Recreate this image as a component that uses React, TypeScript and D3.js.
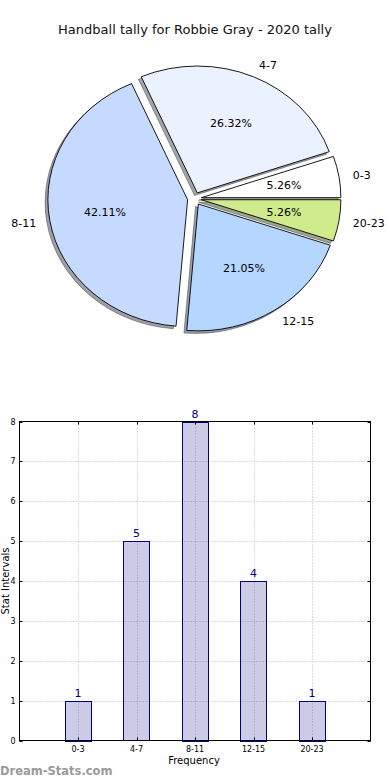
import { useEffect, useRef } from "react"
import * as d3 from "d3"

const categories = ["0-3", "4-7", "8-11", "12-15", "20-23"]
const counts = [1, 5, 8, 4, 1]
const sliceColors = ["#ffffff", "#eaf2ff", "#c6d9ff", "#b4d6ff", "#d0eb8b"]
const yTicks = [0, 1, 2, 3, 4, 5, 6, 7, 8]

const W = 390
const H = 780
const FONT = "DejaVu Sans, Verdana, sans-serif"

export default function App() {
  const svgRef = useRef<SVGSVGElement>(null)

  useEffect(() => {
    if (!svgRef.current) return
    const svg = d3.select(svgRef.current)
    svg.selectAll("*").remove()

    svg.append("rect").attr("width", W).attr("height", H).attr("fill", "#fff")

    // title
    svg.append("text")
      .attr("x", 195).attr("y", 34)
      .attr("text-anchor", "middle")
      .attr("font-family", FONT).attr("font-size", 13)
      .attr("fill", "#111")
      .text("Handball tally for Robbie Gray - 2020 tally")

    // ---- pie (elliptical, like the non-equal matplotlib axes) ----
    const cx = 194.5
    const cy = 198.7
    const rx = 139.5
    const ry = 126.8
    const explode = 0.05
    const total = d3.sum(counts)

    const pie = d3.pie<number>().sort(null).value((d) => d)
      .startAngle(Math.PI / 2).endAngle(Math.PI / 2 - 2 * Math.PI)
    const arcs = pie(counts)
    const arc = d3.arc<any>().innerRadius(0).outerRadius(1)

    const slices = arcs.map((a, i) => {
      const mid = Math.PI / 2 - (a.startAngle + a.endAngle) / 2
      const ox = cx + explode * rx * Math.cos(mid)
      const oy = cy - explode * ry * Math.sin(mid)
      return { a, i, mid, ox, oy }
    })

    const pg = svg.append("g")
    // shadows first
    slices.forEach((s) => {
      const c = d3.rgb(sliceColors[s.i])
      const sc = d3.rgb(c.r * 0.3, c.g * 0.3, c.b * 0.3).toString()
      pg.append("path")
        .attr("d", arc(s.a))
        .attr("transform", `translate(${s.ox - 0.02 * rx},${s.oy + 0.02 * ry}) scale(${rx},${ry})`)
        .attr("fill", sc).attr("fill-opacity", 0.5)
        .attr("stroke", sc).attr("stroke-opacity", 0.5)
        .attr("stroke-width", 1)
        .attr("vector-effect", "non-scaling-stroke")
    })
    slices.forEach((s) => {
      pg.append("path")
        .attr("d", arc(s.a))
        .attr("transform", `translate(${s.ox},${s.oy}) scale(${rx},${ry})`)
        .attr("fill", sliceColors[s.i])
        .attr("stroke", "#000").attr("stroke-width", 0.9)
        .attr("stroke-linejoin", "round")
        .attr("vector-effect", "non-scaling-stroke")
    })
    slices.forEach((s) => {
      const lx = s.ox + 1.1 * rx * Math.cos(s.mid)
      const ly = s.oy - 1.1 * ry * Math.sin(s.mid)
      pg.append("text")
        .attr("x", lx).attr("y", ly).attr("dy", "0.35em")
        .attr("text-anchor", Math.cos(s.mid) > 0 ? "start" : "end")
        .attr("font-family", FONT).attr("font-size", 11).attr("fill", "#000")
        .text(categories[s.i])
      const px = s.ox + 0.6 * rx * Math.cos(s.mid)
      const py = s.oy - 0.6 * ry * Math.sin(s.mid)
      pg.append("text")
        .attr("x", px).attr("y", py).attr("dy", "0.35em")
        .attr("text-anchor", "middle")
        .attr("font-family", FONT).attr("font-size", 11).attr("fill", "#000")
        .text(((counts[s.i] / total) * 100).toFixed(2) + "%")
    })

    // ---- bar chart ----
    const left = 19.5
    const right = 370.5
    const top = 421.5
    const bottom = 740.5
    const x = d3.scaleLinear().domain([-1, 5]).range([left, right])
    const y = d3.scaleLinear().domain([0, 8]).range([bottom, top])
    const bw = x(0.45) - x(0)

    const bg = svg.append("g")

    // grid
    yTicks.slice(1, -1).forEach((t) => {
      bg.append("line")
        .attr("x1", left).attr("x2", right).attr("y1", Math.round(y(t)) + 0.5).attr("y2", Math.round(y(t)) + 0.5)
        .attr("stroke", "#b8b8b8").attr("stroke-dasharray", "1,2")
    })
    categories.forEach((c, i) => {
      bg.append("line")
        .attr("x1", Math.round(x(i)) + 0.5).attr("x2", Math.round(x(i)) + 0.5).attr("y1", top).attr("y2", bottom)
        .attr("stroke", "#b8b8b8").attr("stroke-dasharray", "1,2")
    })

    // bars
    counts.forEach((v, i) => {
      bg.append("rect")
        .attr("x", Math.round(x(i) - bw / 2) + 0.5)
        .attr("y", Math.round(y(v)) + 0.5)
        .attr("width", Math.round(bw))
        .attr("height", Math.round(y(0) - y(v)))
        .attr("fill", "#000080").attr("fill-opacity", 0.2)
        .attr("stroke", "#000080").attr("stroke-width", 1)
      bg.append("text")
        .attr("x", x(i)).attr("y", y(v) - 4)
        .attr("text-anchor", "middle")
        .attr("font-family", FONT).attr("font-size", 11).attr("fill", "#000080")
        .text(v)
    })

    // ticks
    yTicks.forEach((t) => {
      const yy = Math.round(y(t)) + 0.5
      bg.append("line").attr("x1", left).attr("x2", left + 3).attr("y1", yy).attr("y2", yy).attr("stroke", "#000")
      bg.append("line").attr("x1", right - 3).attr("x2", right).attr("y1", yy).attr("y2", yy).attr("stroke", "#000")
      bg.append("text")
        .attr("x", left - 4).attr("y", yy).attr("dy", "0.35em")
        .attr("text-anchor", "end")
        .attr("font-family", FONT).attr("font-size", 8).attr("fill", "#000")
        .text(t)
    })
    categories.forEach((c, i) => {
      const xx = Math.round(x(i)) + 0.5
      bg.append("line").attr("x1", xx).attr("x2", xx).attr("y1", bottom).attr("y2", bottom - 3).attr("stroke", "#000")
      bg.append("line").attr("x1", xx).attr("x2", xx).attr("y1", top).attr("y2", top + 3).attr("stroke", "#000")
      bg.append("text")
        .attr("x", x(i)).attr("y", bottom + 11)
        .attr("text-anchor", "middle")
        .attr("font-family", FONT).attr("font-size", 8).attr("fill", "#000")
        .text(c)
    })

    // frame
    bg.append("rect")
      .attr("x", left).attr("y", top).attr("width", right - left).attr("height", bottom - top)
      .attr("fill", "none").attr("stroke", "#000").attr("stroke-width", 1)

    // axis labels
    svg.append("text")
      .attr("x", 194).attr("y", 764)
      .attr("text-anchor", "middle")
      .attr("font-family", FONT).attr("font-size", 10).attr("fill", "#000")
      .text("Frequency")
    svg.append("text")
      .attr("transform", `translate(9,${(top + bottom) / 2}) rotate(-90)`)
      .attr("text-anchor", "middle")
      .attr("font-family", FONT).attr("font-size", 10).attr("fill", "#000")
      .text("Stat Intervals")

    // watermark
    svg.append("text")
      .attr("x", 0).attr("y", 775)
      .attr("font-family", FONT).attr("font-size", 11.5).attr("font-weight", "bold")
      .attr("fill", "#9a9a9a")
      .text("Dream-Stats.com")
  }, [])

  return (
    <div style={{ position: "absolute", left: 0, top: 0, width: W, height: H }}>
      <svg ref={svgRef} width={W} height={H} style={{ display: "block" }} />
    </div>
  )
}
